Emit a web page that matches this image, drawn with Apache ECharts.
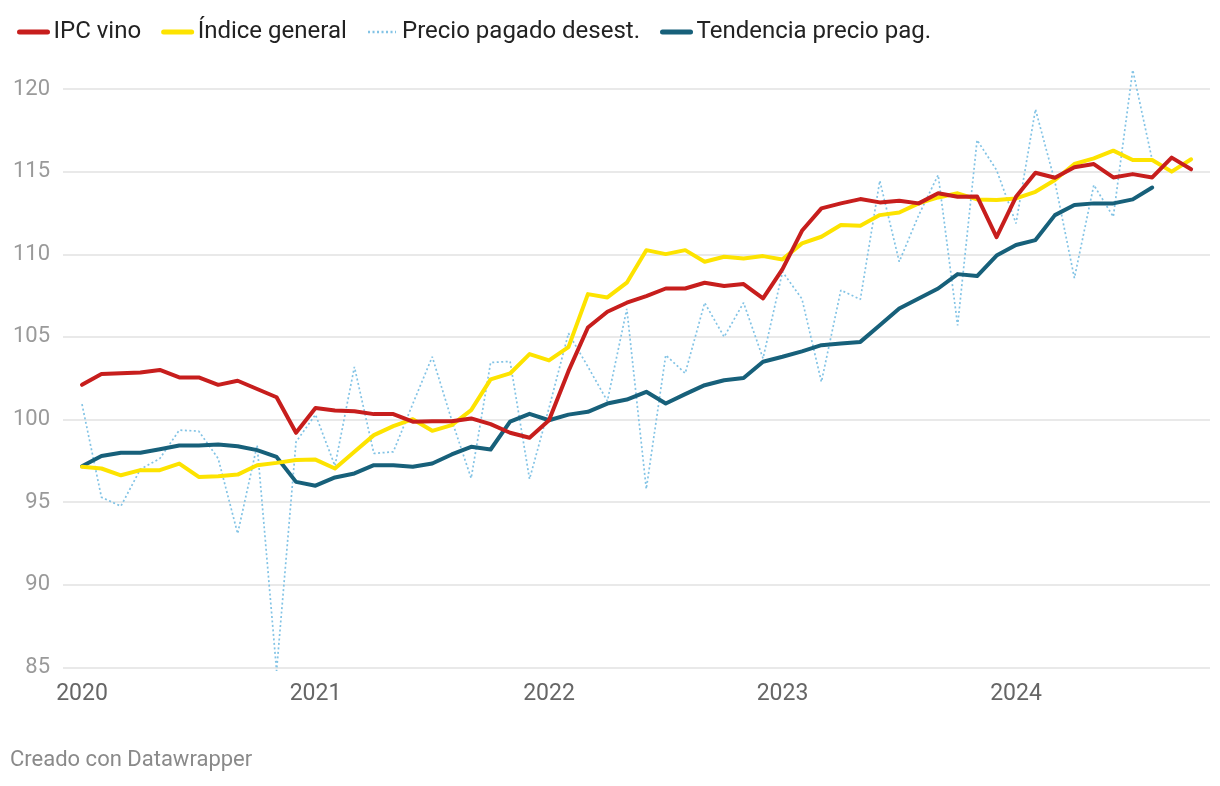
<!DOCTYPE html>
<html>
<head>
<meta charset="utf-8">
<title>IPC vino</title>
<script src="https://cdn.jsdelivr.net/npm/echarts@6/dist/echarts.min.js"></script>
<style>
  html, body { margin: 0; padding: 0; background: #fff; }
  #main { width: 1220px; height: 786px; }
</style>
</head>
<body>
<div id="main"></div>
<script>
// meses desde enero 2020 (índice 0) hasta octubre 2024 (índice 57)
var years = ['2020', '2021', '2022', '2023', '2024'];
var yearTicks = [0, 12, 24, 36, 48];

var ipcVino = [102.1, 102.75, 102.8, 102.85, 103.0, 102.55, 102.55, 102.1, 102.35, 101.85, 101.35, 99.2,
  100.7, 100.55, 100.5, 100.33, 100.33, 99.87, 99.9, 99.9, 100.07, 99.72, 99.2, 98.9,
  99.96, 102.93, 105.57, 106.52, 107.07, 107.47, 107.93, 107.93, 108.28, 108.08, 108.2, 107.33,
  109.1, 111.42, 112.78, 113.08, 113.34, 113.14, 113.24, 113.08, 113.69, 113.48, 113.5, 111.04,
  113.48, 114.93, 114.63, 115.26, 115.46, 114.65, 114.85, 114.65, 115.85, 115.14];

var indiceGeneral = [97.14, 97.04, 96.63, 96.94, 96.94, 97.34, 96.53, 96.57, 96.67, 97.24, 97.38, 97.55,
  97.58, 97.04, 98.05, 99.06, 99.6, 100.02, 99.32, 99.66, 100.57, 102.43, 102.79, 103.96,
  103.58, 104.38, 107.59, 107.39, 108.28, 110.25, 110.01, 110.25, 109.55, 109.85, 109.75, 109.89,
  109.69, 110.66, 111.06, 111.77, 111.73, 112.37, 112.53, 113.08, 113.44, 113.69, 113.32, 113.28,
  113.38, 113.78, 114.49, 115.46, 115.8, 116.27, 115.7, 115.7, 115.0, 115.75];

var precioPagado = [100.93, 95.3, 94.76, 97.0, 97.64, 99.36, 99.3, 97.64, 93.1, 98.45, 84.8, 98.65,
  100.3, 97.2, 103.19, 97.95, 98.05, 100.95, 103.8, 99.97, 96.45, 103.45, 103.52, 96.4,
  100.7, 105.22, 103.2, 101.12, 106.7, 95.8, 103.9, 102.8, 107.07, 105.0, 107.07, 103.7,
  108.94, 107.3, 102.28, 107.83, 107.27, 114.45, 109.55, 112.37, 114.8, 105.7, 116.91, 115.1,
  111.87, 118.77, 114.39, 108.56, 114.19, 112.27, 121.15, 115.7];

var tendencia = [97.18, 97.8, 97.99, 97.99, 98.2, 98.43, 98.43, 98.49, 98.39, 98.15, 97.74, 96.23,
  96.0, 96.5, 96.74, 97.24, 97.24, 97.14, 97.34, 97.89, 98.35, 98.19, 99.88, 100.35,
  99.96, 100.3, 100.47, 100.97, 101.21, 101.68, 100.97, 101.54, 102.08, 102.38, 102.52, 103.5,
  103.8, 104.13, 104.5, 104.6, 104.7, 105.71, 106.72, 107.33, 107.93, 108.8, 108.68, 109.92,
  110.56, 110.86, 112.37, 112.98, 113.08, 113.08, 113.32, 114.04];

function pairs(arr) {
  return arr.map(function (v, i) { return [i, v]; });
}

var chart = echarts.init(document.getElementById('main'));
chart.setOption({
  animation: false,
  textStyle: { fontFamily: 'Roboto, sans-serif' },
  legend: {
    left: 12,
    top: 15,
    itemGap: 20,
    itemWidth: 28,
    itemHeight: 14,
    itemStyle: { opacity: 0 },
    textStyle: { fontSize: 24, color: '#222', padding: [0, 0, 0, 1] },
    data: [
      { name: 'IPC vino', lineStyle: { width: 5 } },
      { name: 'Índice general', lineStyle: { width: 5 } },
      { name: 'Precio pagado desest.', lineStyle: { width: 2.5 } },
      { name: 'Tendencia precio pag.', lineStyle: { width: 5 } }
    ]
  },
  grid: { left: 63, right: 10, top: 89, bottom: 118.5 },
  xAxis: {
    type: 'value',
    min: -0.976,
    max: 57.97,
    splitLine: { show: false },
    axisLine: { show: false },
    axisTick: { show: false },
    axisLabel: {
      customValues: yearTicks,
      fontSize: 23,
      color: '#666',
      margin: 15,
      formatter: function (v) { return years[yearTicks.indexOf(v)] || ''; }
    }
  },
  yAxis: {
    type: 'value',
    min: 85,
    max: 120,
    interval: 5,
    axisLine: { show: false },
    axisTick: { show: false },
    axisLabel: { fontSize: 22, color: '#9a9a9a', margin: 13 },
    splitLine: { lineStyle: { color: '#e2e2e2', width: 1.5 } }
  },
  series: [
    {
      name: 'Precio pagado desest.',
      type: 'line',
      symbol: 'none',
      clip: false,
      z: 1,
      data: pairs(precioPagado),
      itemStyle: { color: '#82c3e5' },
      lineStyle: { color: '#82c3e5', width: 1.7, type: [2, 2.5] }
    },
    {
      name: 'Tendencia precio pag.',
      type: 'line',
      symbol: 'none',
      z: 2,
      data: pairs(tendencia),
      itemStyle: { color: '#17607a' },
      lineStyle: { color: '#17607a', width: 4, cap: 'round', join: 'round' }
    },
    {
      name: 'Índice general',
      type: 'line',
      symbol: 'none',
      z: 3,
      data: pairs(indiceGeneral),
      itemStyle: { color: '#fde300' },
      lineStyle: { color: '#fde300', width: 4, cap: 'round', join: 'round' }
    },
    {
      name: 'IPC vino',
      type: 'line',
      symbol: 'none',
      z: 4,
      data: pairs(ipcVino),
      itemStyle: { color: '#c71e1d' },
      lineStyle: { color: '#c71e1d', width: 4, cap: 'round', join: 'round' }
    }
  ],
  graphic: [
    {
      type: 'text',
      left: 10,
      top: 749,
      style: { text: 'Creado con Datawrapper', fontSize: 22, fill: '#8a8a8a', fontFamily: 'Roboto, sans-serif' }
    }
  ]
});
</script>
</body>
</html>
